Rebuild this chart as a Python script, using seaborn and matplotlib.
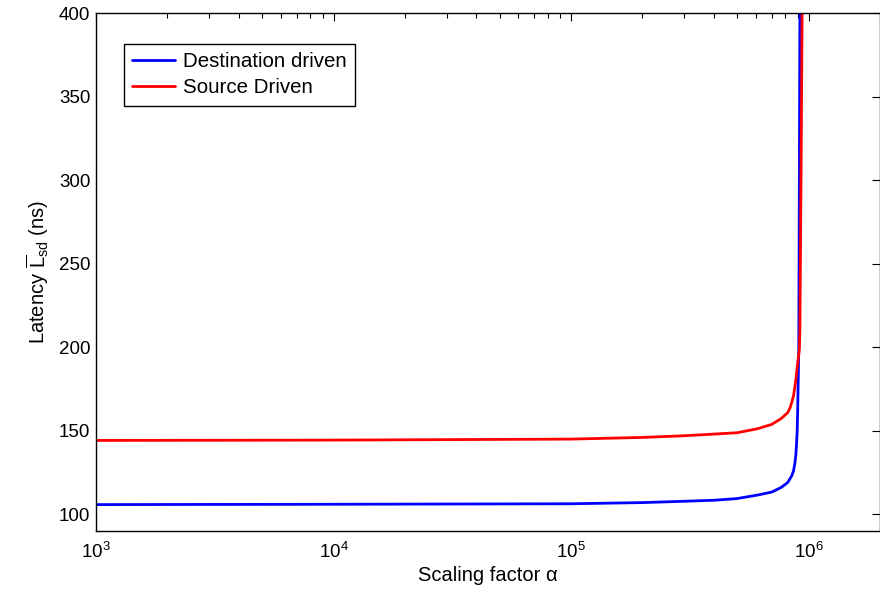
import matplotlib
matplotlib.use("Agg")
import matplotlib.pyplot as plt
import seaborn as sns
import pandas as pd

# Data
alpha_dest = [1e3, 1e4, 1e5, 2e5, 3e5, 4e5, 5e5, 6.1e5, 7e5, 7.66e5, 8.17e5, 8.49e5,
              8.65e5, 8.77e5, 8.85e5, 8.91e5, 8.96e5, 9.0e5, 9.05e5, 9.1e5, 9.15e5, 9.2e5, 9.22e5]
lat_dest = [105.8, 106.0, 106.3, 107.0, 107.8, 108.4, 109.4, 111.5, 113.3, 116.0, 119.0, 122.9,
            126.0, 130.9, 136.0, 142.8, 150.0, 160.8, 180.7, 198.6, 300.0, 400.0, 450.0]

alpha_src = [1e3, 1e4, 1e5, 2e5, 3e5, 4e5, 5e5, 6.1e5, 7e5, 7.66e5, 8.17e5, 8.35e5, 8.49e5,
             8.65e5, 8.77e5, 8.87e5, 8.94e5, 9.05e5, 9.15e5, 9.2e5, 9.3e5, 9.4e5, 9.45e5]
lat_src = [144.2, 144.4, 145.0, 146.0, 147.0, 148.0, 148.8, 151.2, 153.8, 157.2, 160.8, 163.5, 166.8,
           171.0, 176.7, 182.0, 186.7, 193.0, 198.6, 210.6, 300.0, 400.0, 450.0]

series_names = ["Destination driven", "Source Driven"]
series_colors = ["#0000ff", "#ff0000"]
y_ticks = [100, 150, 200, 250, 300, 350, 400]

df = pd.concat([
    pd.DataFrame({"alpha": alpha_dest, "latency": lat_dest, "series": series_names[0]}),
    pd.DataFrame({"alpha": alpha_src, "latency": lat_src, "series": series_names[1]}),
], ignore_index=True)

sns.set_style("white")
plt.rcParams["font.family"] = ["Liberation Sans", "DejaVu Sans"]
plt.rcParams["mathtext.fontset"] = "custom"
plt.rcParams["mathtext.rm"] = "Liberation Sans"
plt.rcParams["mathtext.it"] = "Liberation Sans:italic"
plt.rcParams["mathtext.bf"] = "Liberation Sans:bold"
plt.rcParams["text.color"] = "black"
plt.rcParams["axes.labelcolor"] = "black"
plt.rcParams["xtick.color"] = "black"
plt.rcParams["ytick.color"] = "black"

fig = plt.figure(figsize=(8.8, 5.93), dpi=100)
W, H = 880, 593
ax = fig.add_axes([96 / W, (H - 531) / H, 784 / W, 518 / H])

sns.lineplot(data=df, x="alpha", y="latency", hue="series", palette=series_colors,
             hue_order=series_names, estimator=None, sort=True, linewidth=2.0, ax=ax)

ax.set_xscale("log")
ax.set_xlim(1e3, 2e6)
ax.set_ylim(90, 400)
ax.set_yticks(y_ticks)
ax.set_yticklabels([str(v) for v in y_ticks])

for s in ax.spines.values():
    s.set_visible(True)
    s.set_color("black")
    s.set_linewidth(1.0)

ax.tick_params(axis="both", which="both", direction="in", top=True, right=True,
               colors="black", labelsize=13.5)
ax.tick_params(axis="both", which="major", length=6, width=0.8)
ax.tick_params(axis="y", which="major", pad=4)
ax.tick_params(axis="x", which="major", pad=8)
ax.tick_params(axis="x", which="minor", length=3.5, width=0.8)
ax.yaxis.set_minor_locator(matplotlib.ticker.NullLocator())

ax.set_xlabel("Scaling factor α", fontsize=14.5, labelpad=3)
ax.set_ylabel(r"Latency $\overline{\mathrm{L}}_{\mathrm{sd}}$ (ns)", fontsize=14.5, labelpad=6)

leg = ax.legend(loc="upper left", bbox_to_anchor=(28 / 784, 1 - 31 / 518), borderaxespad=0,
                fancybox=False, edgecolor="black", framealpha=1, fontsize=14.8,
                handlelength=2.1, handletextpad=0.35, borderpad=0.4, labelspacing=0.35,
                handleheight=0.7)
leg.get_frame().set_linewidth(1.0)

fig.savefig("out.png", dpi=100)
